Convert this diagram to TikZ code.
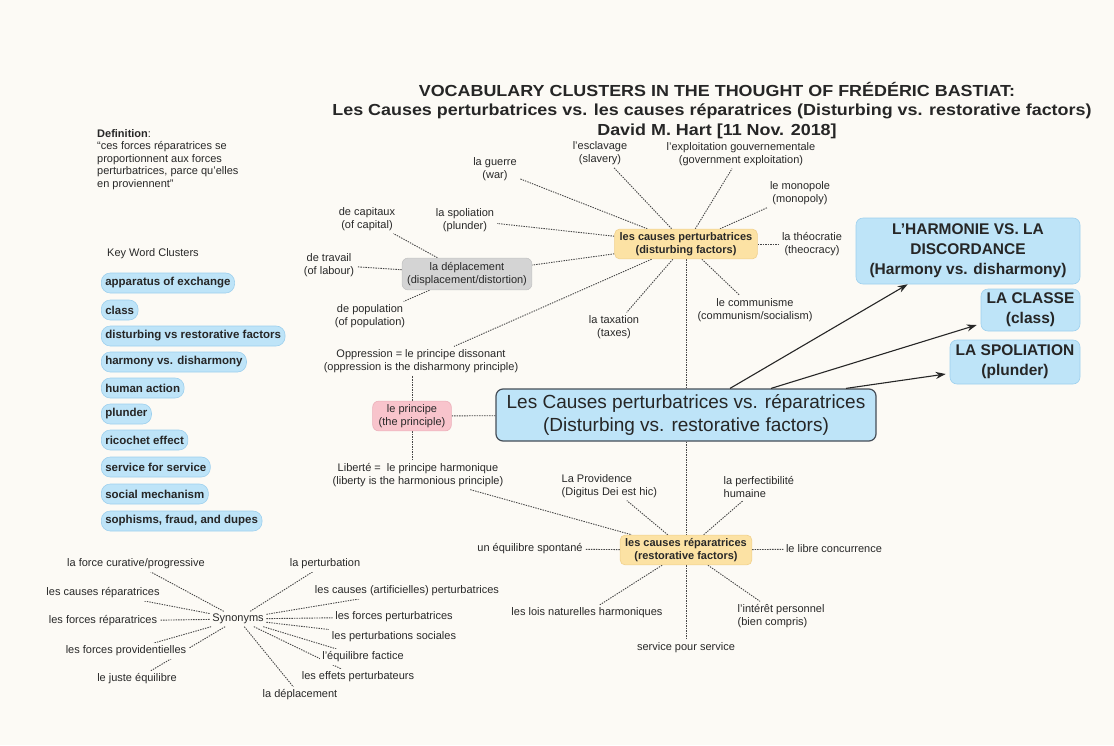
\documentclass[tikz,border=0pt]{standalone}
\usepackage{fontspec}
\setmainfont{Liberation Sans}
\newfontfamily\ttlfont{Liberation Sans}[FakeStretch=1.12]
\usetikzlibrary{arrows.meta}
\pgfdeclarelayer{bgl}
\pgfdeclarelayer{edges}
\pgfsetlayers{bgl,edges,main}
\definecolor{bg}{RGB}{252,250,245}
\definecolor{txt}{RGB}{40,40,40}
\definecolor{lnc}{RGB}{70,70,70}
\definecolor{pill}{RGB}{190,228,248}
\definecolor{pillb}{RGB}{158,208,238}
\definecolor{hubf}{RGB}{252,226,164}
\definecolor{hubb}{RGB}{240,208,140}
\definecolor{greyf}{RGB}{212,212,212}
\definecolor{greyb}{RGB}{195,195,195}
\definecolor{pinkf}{RGB}{248,196,204}
\definecolor{pinkb}{RGB}{236,176,186}
\definecolor{mainb}{RGB}{70,78,88}
\tikzset{
  lbl/.style={font=\fontsize{11}{13.5}\selectfont, align=center, text=txt, inner sep=2.5pt, fill=bg},
  hub/.style={font=\bfseries\fontsize{11}{13.5}\selectfont, align=center, text=txt, fill=hubf, draw=hubb, line width=0.6pt, rounded corners=5pt, inner xsep=5pt, inner ysep=3pt},
  greybox/.style={font=\fontsize{11}{13.5}\selectfont, align=center, text=txt, fill=greyf, draw=greyb, line width=0.6pt, rounded corners=6pt, inner xsep=5pt, inner ysep=4pt},
  pinkbox/.style={font=\fontsize{11}{13.5}\selectfont, align=center, text=txt, fill=pinkf, draw=pinkb, line width=0.6pt, rounded corners=6pt, inner xsep=6pt, inner ysep=3pt},
  mainbox/.style={font=\fontsize{19}{23}\selectfont, align=center, text=black!85, fill=pill, draw=mainb, line width=1.2pt, rounded corners=7pt, minimum width=380pt, minimum height=52pt},
  rbox/.style={font=\bfseries\fontsize{15.5}{20}\selectfont, align=center, text=black!85, fill=pill, draw=pillb, line width=0.6pt, rounded corners=7pt},
  kw/.style={font=\bfseries\fontsize{11.5}{13}\selectfont, text=black!85, fill=pill, draw=pillb, line width=0.6pt, rounded corners=9pt, inner xsep=4pt, minimum height=20pt, anchor=west},
  dot/.style={draw=lnc, line width=0.9pt, dash pattern=on 1.4pt off 1.1pt},
  arr/.style={draw=black!85, line width=1.1pt, -{Stealth[length=10pt,width=7pt]}},
  ttl/.style={font=\ttlfont\bfseries\fontsize{16}{18}\selectfont, text=black!85, inner sep=1pt}
}
\begin{document}
\begin{tikzpicture}[x=1pt,y=-1pt]
\begin{pgfonlayer}{bgl}
\fill[bg] (0,0) rectangle (1114,745);
\end{pgfonlayer}
\useasboundingbox (0,0) rectangle (1114,745);

% title
\node[ttl] (t1) at (717,89) {VOCABULARY CLUSTERS IN THE THOUGHT OF FRÉDÉRIC BASTIAT:};
\node[ttl] (t2) at (712,111) {Les Causes perturbatrices vs. les causes réparatrices (Disturbing vs. restorative factors)};
\node[ttl] (t3) at (717,131) {David M. Hart [11 Nov. 2018]};

% definition
\node[anchor=north west, align=left, text=txt, font=\fontsize{11}{12.5}\selectfont, inner sep=0pt] (def) at (97,129)
  {\textbf{Definition}:\\“ces forces réparatrices se\\proportionnent aux forces\\perturbatrices, parce qu'elles\\en proviennent”};

% key word clusters
\node[anchor=west, text=txt, font=\fontsize{11}{12}\selectfont, inner sep=0pt] (kwc) at (107,254) {Key Word Clusters};
\node[kw] (k1) at (101,283) {apparatus of exchange};
\node[kw] (k2) at (101,310) {class};
\node[kw] (k3) at (101,336) {disturbing vs restorative factors};
\node[kw] (k4) at (101,362) {harmony vs. disharmony};
\node[kw] (k5) at (101,388) {human action};
\node[kw] (k6) at (101,414) {plunder};
\node[kw] (k7) at (101,440) {ricochet effect};
\node[kw] (k8) at (101,467) {service for service};
\node[kw] (k9) at (101,494) {social mechanism};
\node[kw] (k10) at (101,521) {sophisms, fraud, and dupes};

% disturbing cluster
\node[hub] (dist) at (686,244) {les causes perturbatrices\\(disturbing factors)};
\node[lbl] (guerre) at (495,169) {la guerre\\(war)};
\node[lbl] (escl) at (600,153) {l'esclavage\\(slavery)};
\node[lbl] (expl) at (741,154) {l'exploitation gouvernementale\\(government exploitation)};
\node[lbl] (mono) at (800,193) {le monopole\\(monopoly)};
\node[lbl] (theo) at (812,244) {la théocratie\\(theocracy)};
\node[lbl] (comm) at (755,310) {le communisme\\(communism/socialism)};
\node[lbl] (tax) at (614,327) {la taxation\\(taxes)};
\node[lbl] (spol) at (465,220) {la spoliation\\(plunder)};
\node[greybox] (depl) at (467,274) {la déplacement\\(displacement/distortion)};
\node[lbl] (capi) at (367,219) {de capitaux\\(of capital)};
\node[lbl] (trav) at (329,265) {de travail\\(of labour)};
\node[lbl] (popu) at (370,316) {de population\\(of population)};
\node[lbl] (oppr) at (421,361) {Oppression = le principe dissonant\\(oppression is the disharmony principle)};

% central
\node[mainbox] (main) at (686,415) {Les Causes perturbatrices vs. réparatrices\\(Disturbing vs. restorative factors)};
\node[pinkbox] (princ) at (412,416) {le principe\\(the principle)};
\node[lbl] (lib) at (418,475) {Liberté =~ le principe harmonique\\(liberty is the harmonious principle)};

% right boxes
\node[rbox, minimum width=224pt, minimum height=66pt] (harm) at (968,251) {L'HARMONIE VS. LA\\DISCORDANCE\\(Harmony vs. disharmony)};
\node[rbox, minimum width=99pt, minimum height=42pt] (cls) at (1030.5,310) {LA CLASSE\\(class)};
\node[rbox, minimum width=130pt, minimum height=44pt] (spo) at (1015,362) {LA SPOLIATION\\(plunder)};

% restorative cluster
\node[hub] (rest) at (686,550) {les causes réparatrices\\(restorative factors)};
\node[lbl, align=left, anchor=west] (prov) at (559,486) {La Providence\\(Digitus Dei est hic)};
\node[lbl, align=left, anchor=west] (perf) at (721,487) {la perfectibilité\\humaine};
\node[lbl] (equi) at (530,549) {un équilibre spontané};
\node[lbl] (libre) at (834,549) {le libre concurrence};
\node[lbl] (lois) at (587,613) {les lois naturelles harmoniques};
\node[lbl, align=left, anchor=west] (inter) at (735,616) {l'intérêt personnel\\(bien compris)};
\node[lbl] (serv) at (686,648) {service pour service};

% synonyms
\node[lbl] (syn) at (238,619) {Synonyms};
\node[lbl] (s1) at (136,564) {la force curative/progressive};
\node[lbl] (s2) at (103,593) {les causes réparatrices};
\node[lbl] (s3) at (103,621) {les forces réparatrices};
\node[lbl] (s4) at (126,651) {les forces providentielles};
\node[lbl] (s5) at (137,679) {le juste équilibre};
\node[lbl] (s6) at (325,564) {la perturbation};
\node[lbl] (s7) at (407,591) {les causes (artificielles) perturbatrices};
\node[lbl] (s8) at (394,617) {les forces perturbatrices};
\node[lbl] (s9) at (394,637) {les perturbations sociales};
\node[lbl] (s10) at (363,657) {l'équilibre factice};
\node[lbl] (s11) at (358,677) {les effets perturbateurs};
\node[lbl] (s12) at (300,695) {la déplacement};

\begin{pgfonlayer}{edges}
\foreach \n in {guerre,escl,expl,mono,theo,comm,tax,spol,depl,oppr}
  \draw[dot] (dist) -- (\n);
\foreach \n in {capi,trav,popu}
  \draw[dot] (depl) -- (\n);
\draw[dot] (dist) -- (main);
\draw[dot] (main) -- (rest);
\draw[dot] (princ) -- (main);
\draw[dot] (princ.north) -- (princ.north |- oppr.south);
\draw[dot] (princ.south) -- (princ.south |- lib.north);
\draw[dot] (lib) -- (rest);
\foreach \n in {prov,perf,equi,libre,lois,inter,serv}
  \draw[dot] (rest) -- (\n);
\foreach \n in {s1,s2,s3,s4,s5,s6,s7,s8,s9,s10,s11,s12}
  \draw[dot] (syn) -- (\n);
\end{pgfonlayer}

\draw[arr] ([xshift=44pt]main.north) -- ([xshift=52pt]harm.south west);
\draw[arr] ([xshift=85pt]main.north) -- ([xshift=-4pt,yshift=-15pt]cls.west);
\draw[arr] ([xshift=160pt]main.north) -- ([xshift=-4pt,yshift=-12pt]spo.west);
\end{tikzpicture}
\end{document}
